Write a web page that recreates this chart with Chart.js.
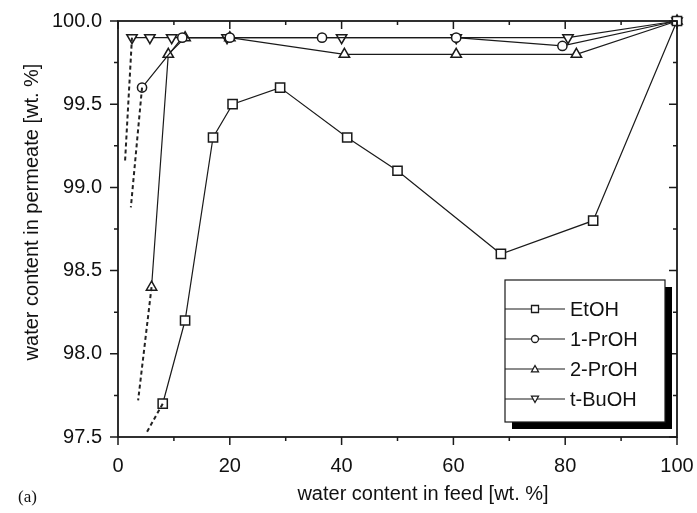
<!DOCTYPE html>
<html>
<head>
<meta charset="utf-8">
<script src="https://cdn.jsdelivr.net/npm/chart.js@4.4.1/dist/chart.umd.min.js"></script>
<style>
  html, body { margin: 0; padding: 0; background: #fff; }
  canvas { display: block; }
</style>
</head>
<body>
<canvas id="myChart" width="697" height="513"></canvas>
<script>
// water content in feed [wt. %] vs water content in permeate [wt. %]
const seriesNames = ["EtOH", "1-PrOH", "2-PrOH", "t-BuOH"];

const etohFeed = [8, 12, 17, 20.5, 29, 41, 50, 68.5, 85, 100];
const etohPerm = [97.7, 98.2, 99.3, 99.5, 99.6, 99.3, 99.1, 98.6, 98.8, 100];

const prop1Feed = [4.3, 11.5, 20, 36.5, 60.5, 79.5, 100];
const prop1Perm = [99.6, 99.9, 99.9, 99.9, 99.9, 99.85, 100];

const prop2Feed = [6, 9, 12, 20, 40.5, 60.5, 82, 100];
const prop2Perm = [98.4, 99.8, 99.9, 99.9, 99.8, 99.8, 99.8, 100];

const butFeed = [2.5, 5.7, 9.6, 19.5, 40, 60.5, 80.5, 100];
const butPerm = [99.9, 99.9, 99.9, 99.9, 99.9, 99.9, 99.9, 100];

// dashed extrapolations below the lowest measured point
const etohDashFeed = [8, 5];
const etohDashPerm = [97.7, 97.52];
const prop1DashFeed = [4.3, 2.3];
const prop1DashPerm = [99.6, 98.88];
const prop2DashFeed = [6, 3.6];
const prop2DashPerm = [98.4, 97.72];
const butDashFeed = [2.5, 1.25];
const butDashPerm = [99.9, 99.15];

const xTicks = [0, 20, 40, 60, 80, 100];
const xMinorTicks = [10, 30, 50, 70, 90];
const yTicks = [97.5, 98.0, 98.5, 99.0, 99.5, 100.0];
const yMinorTicks = [97.75, 98.25, 98.75, 99.25, 99.75];

const fontFam = "'Liberation Sans', Arial, sans-serif";
const ink = "#1a1a1a";

function toPoints(xs, ys) {
    return xs.map((x, i) => ({ x: x, y: ys[i] }));
}

function mainSet(label, xs, ys, style, radius, rotation) {
    return {
        label: label,
        data: toPoints(xs, ys),
        showLine: true,
        borderColor: ink,
        borderWidth: 1.2,
        pointStyle: style,
        pointRadius: radius,
        pointRotation: rotation || 0,
        pointBackgroundColor: "#fff",
        pointBorderColor: ink,
        pointBorderWidth: 1.5,
        clip: false
    };
}

function dashSet(xs, ys) {
    return {
        label: "",
        data: toPoints(xs, ys),
        showLine: true,
        borderColor: "#222",
        borderWidth: 2,
        borderDash: [4, 3],
        pointRadius: 0,
        clip: false
    };
}

// frame with outward ticks on left/bottom and inward ticks on top/right
const framePlugin = {
    id: "frame",
    afterDatasetsDraw(chart) {
        const ctx = chart.ctx;
        const a = chart.chartArea;
        const xs = chart.scales.x;
        const ys = chart.scales.y;
        ctx.save();
        ctx.strokeStyle = ink;
        ctx.lineWidth = 1.8;
        ctx.strokeRect(a.left, a.top, a.right - a.left, a.bottom - a.top);
        ctx.lineWidth = 1.5;
        ctx.beginPath();
        xTicks.concat(xMinorTicks).forEach(v => {
            const len = xTicks.includes(v) ? 8 : 4;
            const px = xs.getPixelForValue(v);
            ctx.moveTo(px, a.bottom);
            ctx.lineTo(px, a.bottom + len);
            ctx.moveTo(px, a.top);
            ctx.lineTo(px, a.top + len);
        });
        yTicks.concat(yMinorTicks).forEach(v => {
            const len = yTicks.includes(v) ? 8 : 4;
            const py = ys.getPixelForValue(v);
            ctx.moveTo(a.left, py);
            ctx.lineTo(a.left - len, py);
            ctx.moveTo(a.right, py);
            ctx.lineTo(a.right - len, py);
        });
        ctx.stroke();
        ctx.restore();
    }
};

function drawMarker(ctx, style, x, y, r) {
    ctx.beginPath();
    if (style === "rect") {
        ctx.rect(x - r, y - r, 2 * r, 2 * r);
    } else if (style === "circle") {
        ctx.arc(x, y, r, 0, Math.PI * 2);
    } else if (style === "up") {
        ctx.moveTo(x, y - r);
        ctx.lineTo(x + r, y + r * 0.8);
        ctx.lineTo(x - r, y + r * 0.8);
        ctx.closePath();
    } else {
        ctx.moveTo(x, y + r);
        ctx.lineTo(x + r, y - r * 0.8);
        ctx.lineTo(x - r, y - r * 0.8);
        ctx.closePath();
    }
    ctx.fill();
    ctx.stroke();
}

// legend box, axis titles and panel label
const annotPlugin = {
    id: "annot",
    afterDraw(chart) {
        const ctx = chart.ctx;
        ctx.save();

        // legend with drop shadow
        const bx = 505, by = 280, bw = 160, bh = 142;
        ctx.fillStyle = "#000";
        ctx.fillRect(bx + 7, by + 7, bw, bh);
        ctx.fillStyle = "#fff";
        ctx.fillRect(bx, by, bw, bh);
        ctx.strokeStyle = ink;
        ctx.lineWidth = 1.2;
        ctx.strokeRect(bx, by, bw, bh);

        const styles = ["rect", "circle", "up", "down"];
        const rowY = [309, 339, 369, 399];
        ctx.font = "20px " + fontFam;
        ctx.textBaseline = "middle";
        ctx.textAlign = "left";
        seriesNames.forEach((name, i) => {
            const y = rowY[i];
            ctx.strokeStyle = ink;
            ctx.lineWidth = 1.2;
            ctx.beginPath();
            ctx.moveTo(bx, y);
            ctx.lineTo(bx + 60, y);
            ctx.stroke();
            ctx.fillStyle = "#fff";
            ctx.lineWidth = 1.3;
            drawMarker(ctx, styles[i], bx + 30, y, 3.5);
            ctx.fillStyle = "#111";
            ctx.fillText(name, bx + 65, y + 1);
        });

        // axis titles
        ctx.fillStyle = "#111";
        ctx.font = "20px " + fontFam;
        ctx.textAlign = "center";
        ctx.textBaseline = "middle";
        ctx.fillText("water content in feed [wt. %]", 423, 494);
        ctx.save();
        ctx.translate(32, 212);
        ctx.rotate(-Math.PI / 2);
        ctx.fillText("water content in permeate [wt. %]", 0, 0);
        ctx.restore();

        ctx.font = "17px 'Liberation Serif', 'Times New Roman', serif";
        ctx.textAlign = "left";
        ctx.fillText("(a)", 18, 498);
        ctx.restore();
    }
};

const myChart = new Chart(document.getElementById("myChart"), {
    type: "scatter",
    data: {
        datasets: [
            dashSet(etohDashFeed, etohDashPerm),
            dashSet(prop1DashFeed, prop1DashPerm),
            dashSet(prop2DashFeed, prop2DashPerm),
            dashSet(butDashFeed, butDashPerm),
            mainSet(seriesNames[0], etohFeed, etohPerm, "rect", 6.5),
            mainSet(seriesNames[1], prop1Feed, prop1Perm, "circle", 4.6),
            mainSet(seriesNames[2], prop2Feed, prop2Perm, "triangle", 6),
            mainSet(seriesNames[3], butFeed, butPerm, "triangle", 6, 180)
        ]
    },
    options: {
        responsive: false,
        animation: false,
        layout: { padding: { top: 21, right: 20, left: 0, bottom: 0 } },
        plugins: {
            legend: { display: false },
            tooltip: { enabled: false }
        },
        scales: {
            x: {
                type: "linear",
                min: 0,
                max: 100,
                grid: { display: false, drawTicks: false },
                border: { display: false },
                ticks: {
                    stepSize: 20,
                    maxRotation: 0,
                    padding: 17,
                    color: "#111",
                    font: { size: 20, family: fontFam }
                },
                afterFit(scale) {
                    scale.height = 76;
                    scale.paddingLeft = 0;
                    scale.paddingRight = 0;
                }
            },
            y: {
                type: "linear",
                min: 97.5,
                max: 100,
                grid: { display: false, drawTicks: false },
                border: { display: false },
                ticks: {
                    stepSize: 0.5,
                    padding: 16,
                    color: "#111",
                    font: { size: 20, family: fontFam },
                    callback: v => v.toFixed(1)
                },
                afterFit(scale) {
                    scale.width = 118;
                    scale.paddingTop = 0;
                    scale.paddingBottom = 0;
                }
            }
        }
    },
    plugins: [framePlugin, annotPlugin]
});
</script>
</body>
</html>
